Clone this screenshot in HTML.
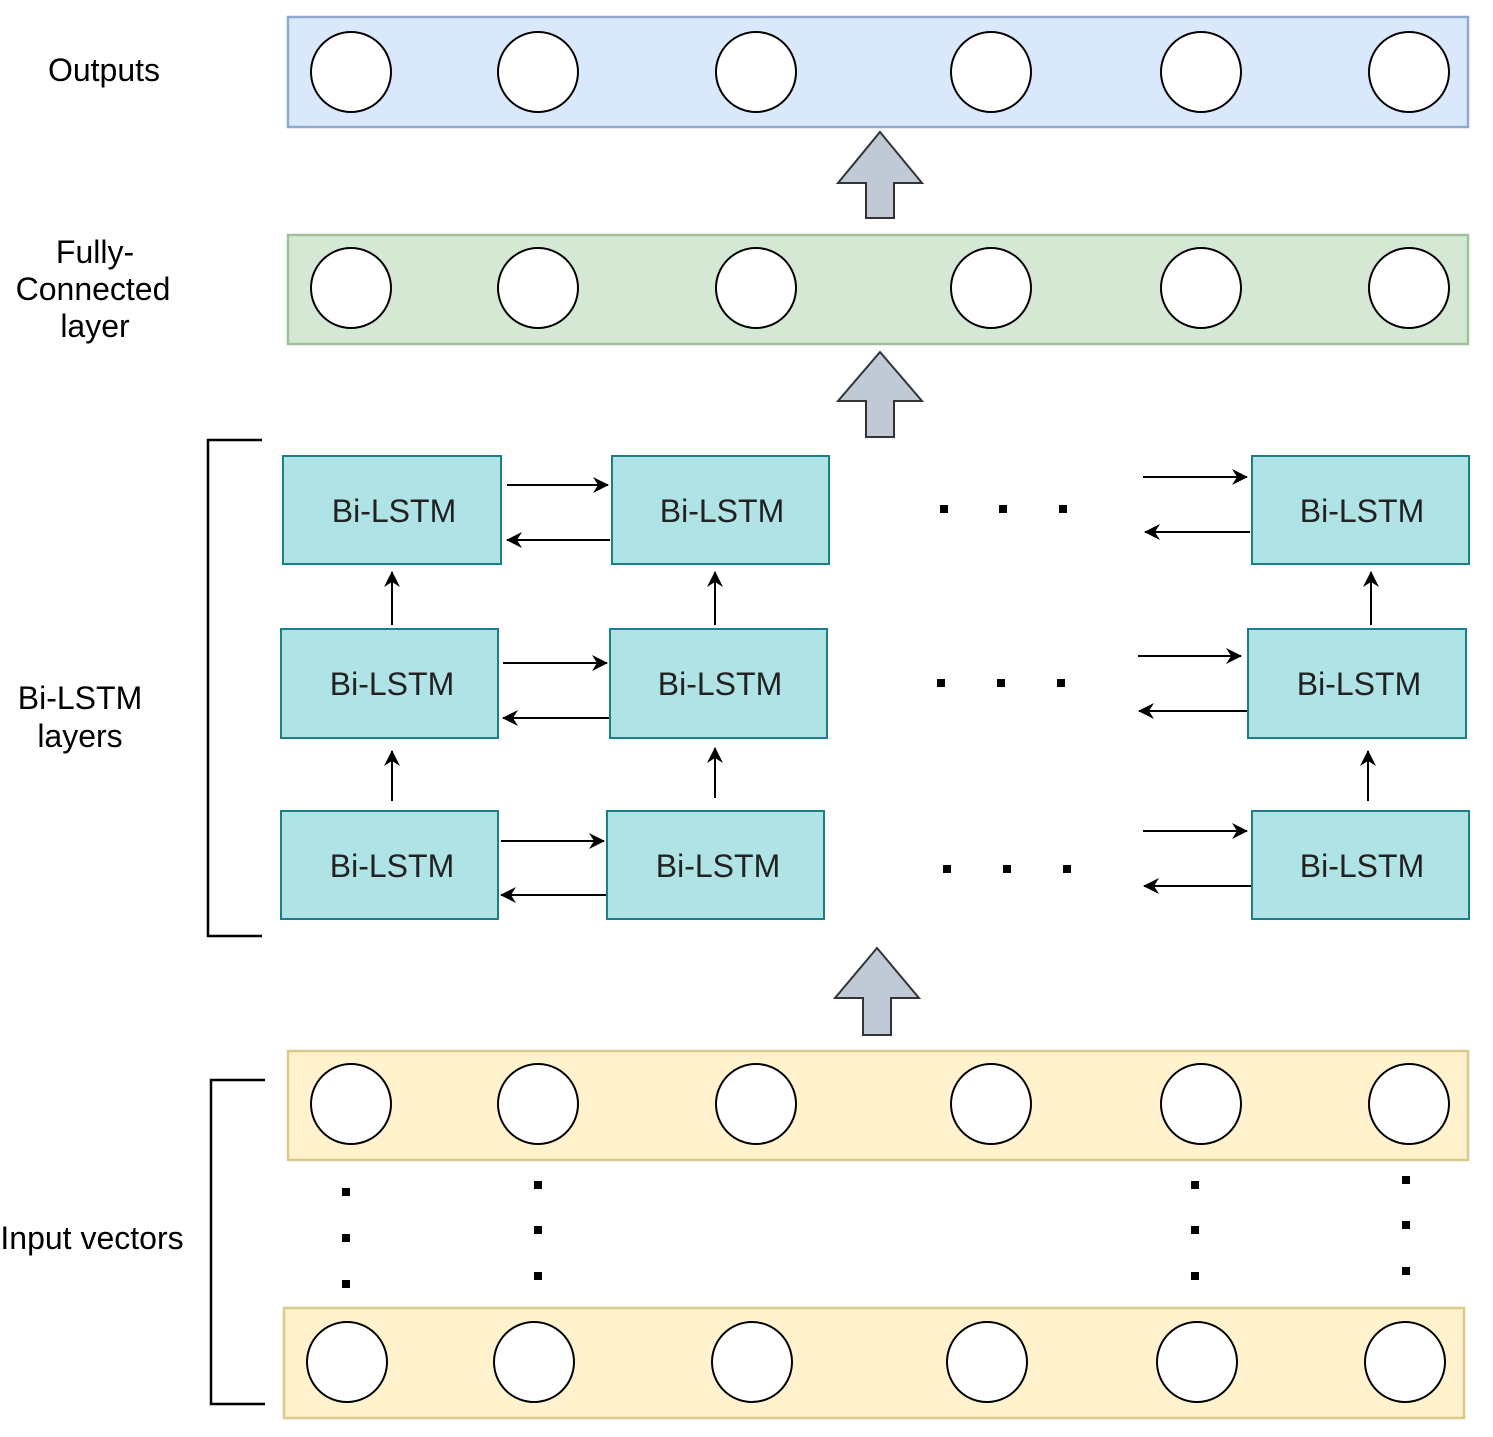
<!DOCTYPE html>
<html><head><style>body{margin:0;background:#fff}svg{display:block}</style></head><body>
<svg width="1493" height="1437" xmlns="http://www.w3.org/2000/svg" font-family="Liberation Sans, sans-serif">
<defs><marker id="b" markerWidth="16" markerHeight="16" refX="15" refY="8" orient="auto" markerUnits="userSpaceOnUse"><path d="M0,0 L16,8 L0,16 L5,8 Z" fill="#000"/></marker></defs>
<g stroke-width="2.5">
<rect x="288" y="17" width="1180" height="110" fill="#dae8fc" stroke="#8fa8cc"/>
<rect x="288" y="235" width="1180" height="109" fill="#d5e8d4" stroke="#9fc29a"/>
<rect x="288" y="1051" width="1180" height="109" fill="#fff2cc" stroke="#dcc98a"/>
<rect x="284" y="1308" width="1180" height="110" fill="#fff2cc" stroke="#dcc98a"/>
</g>
<g fill="#fff" stroke="#000" stroke-width="2">
<circle cx="351" cy="72" r="40"/><circle cx="538" cy="72" r="40"/><circle cx="756" cy="72" r="40"/><circle cx="991" cy="72" r="40"/><circle cx="1201" cy="72" r="40"/><circle cx="1409" cy="72" r="40"/>
<circle cx="351" cy="288" r="40"/><circle cx="538" cy="288" r="40"/><circle cx="756" cy="288" r="40"/><circle cx="991" cy="288" r="40"/><circle cx="1201" cy="288" r="40"/><circle cx="1409" cy="288" r="40"/>
<circle cx="351" cy="1104" r="40"/><circle cx="538" cy="1104" r="40"/><circle cx="756" cy="1104" r="40"/><circle cx="991" cy="1104" r="40"/><circle cx="1201" cy="1104" r="40"/><circle cx="1409" cy="1104" r="40"/>
<circle cx="347" cy="1362" r="40"/><circle cx="534" cy="1362" r="40"/><circle cx="752" cy="1362" r="40"/><circle cx="987" cy="1362" r="40"/><circle cx="1197" cy="1362" r="40"/><circle cx="1405" cy="1362" r="40"/>
</g>
<g fill="#bfcad6" stroke="#333" stroke-width="2">
<path d="M880,132 L922,183 L894,183 L894,218 L866,218 L866,183 L838,183 Z"/>
<path d="M880,352 L922,401 L894,401 L894,437 L866,437 L866,401 L838,401 Z"/>
<path d="M877,948 L919,998 L891,998 L891,1035 L863,1035 L863,998 L835,998 Z"/>
</g>
<g fill="#b0e3e6" stroke="#1a7f86" stroke-width="2">
<rect x="283" y="456" width="218" height="108"/><rect x="612" y="456" width="217" height="108"/><rect x="1252" y="456" width="217" height="108"/>
<rect x="281" y="629" width="217" height="109"/><rect x="610" y="629" width="217" height="109"/><rect x="1248" y="629" width="218" height="109"/>
<rect x="281" y="811" width="217" height="108"/><rect x="607" y="811" width="217" height="108"/><rect x="1252" y="811" width="217" height="108"/>
</g>
<g font-size="32" fill="#222" text-anchor="middle">
<text x="394" y="522">Bi-LSTM</text><text x="722" y="522">Bi-LSTM</text><text x="1362" y="522">Bi-LSTM</text>
<text x="392" y="695">Bi-LSTM</text><text x="720" y="695">Bi-LSTM</text><text x="1359" y="695">Bi-LSTM</text>
<text x="392" y="877">Bi-LSTM</text><text x="718" y="877">Bi-LSTM</text><text x="1362" y="877">Bi-LSTM</text>
</g>
<g stroke="#000" stroke-width="2" fill="none">
<line x1="507" y1="485" x2="608" y2="485" marker-end="url(#b)"/><line x1="610" y1="540" x2="507" y2="540" marker-end="url(#b)"/>
<line x1="1143" y1="477" x2="1247" y2="477" marker-end="url(#b)"/><line x1="1250" y1="532" x2="1145" y2="532" marker-end="url(#b)"/>
<line x1="503" y1="663" x2="607" y2="663" marker-end="url(#b)"/><line x1="609" y1="718" x2="503" y2="718" marker-end="url(#b)"/>
<line x1="1138" y1="656" x2="1241" y2="656" marker-end="url(#b)"/><line x1="1247" y1="711" x2="1139" y2="711" marker-end="url(#b)"/>
<line x1="501" y1="841" x2="604" y2="841" marker-end="url(#b)"/><line x1="606" y1="895" x2="501" y2="895" marker-end="url(#b)"/>
<line x1="1143" y1="831" x2="1247" y2="831" marker-end="url(#b)"/><line x1="1251" y1="886" x2="1144" y2="886" marker-end="url(#b)"/>
<line x1="392" y1="625" x2="392" y2="572" marker-end="url(#b)"/><line x1="715" y1="625" x2="715" y2="572" marker-end="url(#b)"/><line x1="1371" y1="625" x2="1371" y2="572" marker-end="url(#b)"/>
<line x1="392" y1="801" x2="392" y2="751" marker-end="url(#b)"/><line x1="715" y1="798" x2="715" y2="748" marker-end="url(#b)"/><line x1="1368" y1="801" x2="1368" y2="751" marker-end="url(#b)"/>
<path d="M262,440 H208 V936 H262" stroke-width="2.5"/>
<path d="M265,1080 H211 V1404 H265" stroke-width="2.5"/>
</g>
<g fill="#000">
<rect x="940" y="505" width="8" height="8"/><rect x="999" y="505" width="8" height="8"/><rect x="1059" y="505" width="8" height="8"/>
<rect x="937" y="679" width="8" height="8"/><rect x="997" y="679" width="8" height="8"/><rect x="1057" y="679" width="8" height="8"/>
<rect x="943" y="865" width="8" height="8"/><rect x="1003" y="865" width="8" height="8"/><rect x="1063" y="865" width="8" height="8"/>
<rect x="342" y="1188" width="8" height="8"/><rect x="342" y="1234" width="8" height="8"/><rect x="342" y="1280" width="8" height="8"/>
<rect x="534" y="1181" width="8" height="8"/><rect x="534" y="1226" width="8" height="8"/><rect x="534" y="1272" width="8" height="8"/>
<rect x="1191" y="1181" width="8" height="8"/><rect x="1191" y="1226" width="8" height="8"/><rect x="1191" y="1272" width="8" height="8"/>
<rect x="1402" y="1176" width="8" height="8"/><rect x="1402" y="1221" width="8" height="8"/><rect x="1402" y="1267" width="8" height="8"/>
</g>
<g font-size="32" fill="#000" text-anchor="middle">
<text x="104" y="81">Outputs</text>
<text x="95" y="263">Fully-</text><text x="93" y="300">Connected</text><text x="95" y="337">layer</text>
<text x="80" y="709">Bi-LSTM</text><text x="80" y="747">layers</text>
<text x="92" y="1249">Input vectors</text>
</g>
</svg>
</body></html>
